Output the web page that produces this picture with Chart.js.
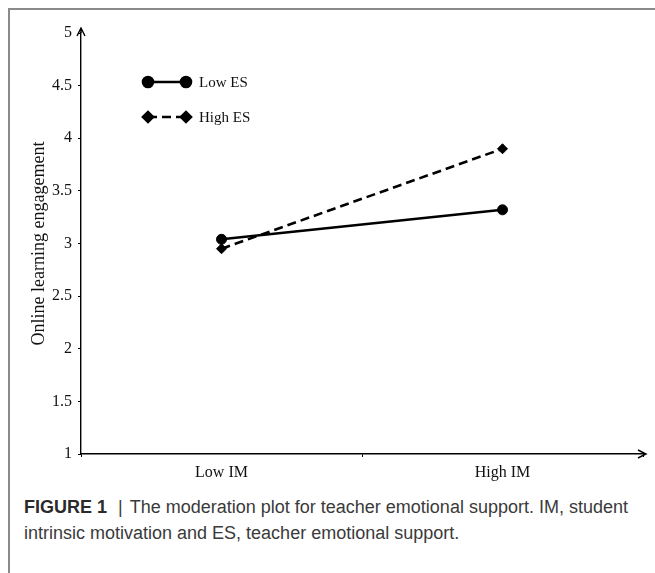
<!DOCTYPE html>
<html>
<head>
<meta charset="utf-8">
<script src="https://cdn.jsdelivr.net/npm/chart.js@4.4.0/dist/chart.umd.min.js"></script>
<style>
  html, body { margin: 0; padding: 0; background: #fff; }
  body { width: 655px; height: 573px; position: relative; overflow: hidden; }
  #frame {
    position: absolute; left: 8px; top: 8px; right: -2px; bottom: -2px;
    border-top: 2px solid #8a8a8a; border-left: 2px solid #8a8a8a;
  }
  #wrap { position: absolute; left: 0; top: 0; width: 655px; height: 482px; }
  #caption {
    position: absolute; left: 24px; top: 494px; width: 630px; white-space: nowrap;
    font-family: "Liberation Sans", Arial, sans-serif; font-size: 18px;
    line-height: 26px; color: #3a3a3a;
  }
  #caption b { color: #2a2a2a; }
  #caption .sep { margin: 0 7px 0 11px; }
</style>
</head>
<body>
<div id="frame"></div>
<div id="wrap"><canvas id="moderationChart"></canvas></div>
<div id="caption"><b>FIGURE 1</b><span class="sep">|</span>The moderation plot for teacher emotional support. IM, student<br>intrinsic motivation and ES, teacher emotional support.</div>
<script>
const categories = ["Low IM", "High IM"];
const lowES = [3.04, 3.32];
const highES = [2.95, 3.9];
const seriesNames = ["Low ES", "High ES"];
const yTicks = [1, 1.5, 2, 2.5, 3, 3.5, 4, 4.5, 5];

const serif = "'Liberation Serif', 'Times New Roman', serif";

// legend with a short line and a marker at each end, plus axis arrows
const extras = {
  id: "extras",
  afterDraw(chart) {
    const ctx = chart.ctx;
    const area = chart.chartArea;
    ctx.save();
    ctx.strokeStyle = "#000";
    ctx.lineWidth = 1.4;
    // y arrow
    ctx.beginPath();
    ctx.moveTo(area.left, area.top);
    ctx.lineTo(area.left, area.top - 5);
    ctx.moveTo(area.left - 4, area.top + 3);
    ctx.lineTo(area.left, area.top - 5);
    ctx.lineTo(area.left + 4, area.top + 3);
    ctx.stroke();
    // x arrow
    ctx.beginPath();
    ctx.moveTo(area.right, area.bottom);
    ctx.lineTo(area.right + 3, area.bottom);
    ctx.moveTo(area.right - 5, area.bottom - 4);
    ctx.lineTo(area.right + 3, area.bottom);
    ctx.lineTo(area.right - 5, area.bottom + 4);
    ctx.stroke();

    // legend
    const x0 = 148, x1 = 186, rows = [82, 117];
    chart.data.datasets.forEach((ds, i) => {
      const y = rows[i];
      ctx.strokeStyle = ds.borderColor;
      ctx.lineWidth = ds.borderWidth;
      ctx.setLineDash(ds.borderDash || []);
      ctx.beginPath();
      ctx.moveTo(x0, y);
      ctx.lineTo(x1, y);
      ctx.stroke();
      ctx.setLineDash([]);
      const opts = { pointStyle: ds.pointStyle, radius: ds.pointRadius, rotation: 0, borderWidth: 1 };
      ctx.fillStyle = ds.pointBackgroundColor;
      ctx.strokeStyle = ds.borderColor;
      Chart.helpers.drawPoint(ctx, opts, x0, y);
      Chart.helpers.drawPoint(ctx, opts, x1, y);
      ctx.fillStyle = "#111";
      ctx.font = "15px " + serif;
      ctx.textBaseline = "middle";
      ctx.fillText(ds.label, 199, y + 1);
    });
    ctx.restore();
  }
};

new Chart(document.getElementById("moderationChart"), {
  type: "line",
  data: {
    labels: categories,
    datasets: [
      {
        label: seriesNames[0],
        data: lowES,
        borderColor: "#000",
        backgroundColor: "#000",
        pointBackgroundColor: "#000",
        borderWidth: 2.6,
        pointStyle: "circle",
        pointRadius: 5,
        pointBorderWidth: 1,
      },
      {
        label: seriesNames[1],
        data: highES,
        borderColor: "#000",
        backgroundColor: "#000",
        pointBackgroundColor: "#000",
        borderWidth: 2.6,
        borderDash: [9, 5],
        pointStyle: "rectRot",
        pointRadius: 5,
        pointBorderWidth: 1,
      },
    ],
  },
  options: {
    responsive: true,
    maintainAspectRatio: false,
    animation: false,
    layout: { padding: { left: 28, right: 12, top: 33, bottom: 0 } },
    plugins: { legend: { display: false }, tooltip: { enabled: false } },
    scales: {
      x: {
        type: "category",
        offset: true,
        grid: { drawOnChartArea: false, drawTicks: true, tickLength: 3, color: "#000", offset: true },
        border: { color: "#000", width: 1.4 },
        ticks: { color: "#111", font: { family: serif, size: 16 }, padding: 6 },
        afterFit: (scale) => { scale.height = 28; },
      },
      y: {
        min: 1,
        max: 5,
        afterBuildTicks: (scale) => { scale.ticks = yTicks.map((v) => ({ value: v })); },
        grid: { drawOnChartArea: false, drawTicks: true, tickLength: 3, color: "#000" },
        border: { color: "#000", width: 1.4 },
        ticks: {
          color: "#111",
          font: { family: serif, size: 16 },
          padding: 6,
          callback: (v) => String(v),
        },
        title: { display: true, text: "Online learning engagement", color: "#111", font: { family: serif, size: 18 }, padding: 0 },
        afterFit: (scale) => { scale.width = 53; },
      },
    },
  },
  plugins: [extras],
});
</script>
</body>
</html>
